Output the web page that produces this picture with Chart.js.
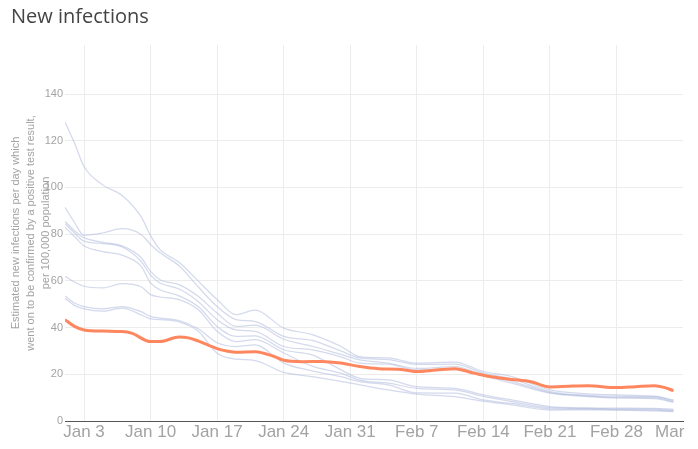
<!DOCTYPE html>
<html>
<head>
<meta charset="utf-8">
<script src="https://cdn.jsdelivr.net/npm/chart.js@4"></script>
<style>
  html, body { margin: 0; padding: 0; background: #fff; }
</style>
</head>
<body>
<canvas id="chart" width="698" height="449"></canvas>
<script>
// days counted from Jan 1
var regionDays = [0,1,2,4,6,8,9,10,12,14,16,18,20,23,26,29,31,34,37,41,44,47,51,55,58,62,64];
var lineA = [128,119,109,101,96.6,87.5,79.4,73.4,68,60,52,45.5,47.5,39.8,37,32,27.6,27,24.8,25.2,21.2,19,13.3,11.6,11.2,10.7,9];
var lineB = [91.5,85,79.5,80.5,82.4,79.9,75.6,72,66.5,57.5,49,43.4,42.6,36.2,34.5,30,27,26.3,24.2,24.3,20.5,18,12.6,11,10.6,10.4,8.7];
var lineC = [85.5,81.5,78.5,76.5,75,70,64.1,60.5,58.4,53.4,46.2,40.5,41,35,32,28.5,26.2,24.8,22.5,23.3,19.8,17,12.2,10.7,10.1,10,8.3];
var lineD = [84.5,80.5,77,76,74.5,68.4,62.5,59.1,56.5,51.2,43.4,39,38.4,31.9,30.5,27.5,24.8,24.3,21.9,22,19.3,16.2,11.9,10.4,9.8,9.6,8];
var lineE = [83,79,75,72.5,71,66.3,59.1,56.2,53.6,49,40.5,36.2,36.5,30.5,28.3,22,18.3,17.6,14.7,14,11.2,9,6.2,5.6,5.5,5.4,5];
var lineF = [62,59.5,57.7,57,58.8,57.5,54.1,53.1,52,47.7,38.4,34,34.8,29.1,23.5,20.5,17.5,16.2,14,13.3,10.5,8.3,5.7,5.4,5.2,5.1,4.6];
var lineG = [53.5,50.5,49,48,49,46.8,44.8,44.1,43,39.5,33.5,31.9,32.6,24.8,21.5,19,16.9,15.5,12,11.9,9,7.5,5.2,5.1,4.9,4.7,4.3];
var lineH = [52.5,49.5,48,47,48.3,45.5,43.7,43.4,42.4,38.5,29,26.5,25.9,20.8,19,17,15.5,13.3,11.5,10.4,8.5,6.9,4.7,4.8,4.7,4.3,4];

var highlightDays = [0,1,2,4,6,7,9,10,12,13,14,16,17,18,20,22,23,25,27,29,31,33,35,37,39,41,43,45,47,49,51,53,55,58,60,62,63,64];
var highlightValues = [43.4,40.5,39,38.5,38.3,37.6,34,34,36,35.6,34.3,31,30,29.4,29.7,27.6,26,25.4,25.5,24.8,23.3,22.4,22.2,21.2,21.8,22.4,20.5,18.8,17.8,16.8,14.6,14.9,15.1,14.3,14.7,15.1,14.4,13];

var xTickDays = [2,9,16,23,30,37,44,51,58,63.6];
var xTickLabels = ['Jan 3','Jan 10','Jan 17','Jan 24','Jan 31','Feb 7','Feb 14','Feb 21','Feb 28','Mar'];
var yTicks = [0,20,40,60,80,100,120,140];

let toPoints = (days, vals) => days.map((d, i) => ({ x: d, y: vals[i] }));

let greyLine = (vals) => ({
    data: toPoints(regionDays, vals),
    borderColor: 'rgba(170,182,220,0.5)',
    borderWidth: 1.25,
    pointRadius: 0,
    cubicInterpolationMode: 'monotone',
    fill: false
});

var datasets = [{
    data: toPoints(highlightDays, highlightValues),
    borderColor: '#ff875f',
    borderWidth: 3,
    pointRadius: 0,
    cubicInterpolationMode: 'monotone',
    fill: false
}];
[lineA, lineB, lineC, lineD, lineE, lineF, lineG, lineH].forEach(l => datasets.push(greyLine(l)));

let chart = new Chart(document.getElementById('chart'), {
    type: 'line',
    data: { datasets: datasets },
    options: {
        responsive: false,
        animation: false,
        devicePixelRatio: 1,
        layout: { padding: { left: 11, right: 15, top: 0, bottom: 0 } },
        plugins: {
            legend: { display: false },
            tooltip: { enabled: false },
            title: {
                display: true,
                text: 'New infections',
                align: 'start',
                color: '#444',
                font: { family: '"Open Sans"', size: 20, weight: 'normal', lineHeight: 1.2 },
                padding: { top: 5, bottom: 16 }
            }
        },
        scales: {
            x: {
                type: 'linear',
                min: 0,
                max: 65,
                afterBuildTicks: s => { s.ticks = xTickDays.map(v => ({ value: v })); },
                afterFit: s => { s.height = 28; },
                ticks: {
                    autoSkip: false,
                    maxRotation: 0,
                    padding: 1,
                    color: '#a3a3a3',
                    font: { family: '"Liberation Sans", Arial', size: 17 },
                    callback: v => xTickLabels[xTickDays.indexOf(v)]
                },
                grid: {
                    drawTicks: false,
                    color: ctx => (ctx.tick && ctx.tick.value === 63.6) ? 'rgba(0,0,0,0)' : '#ececec'
                },
                border: { display: true, color: '#555', width: 1 }
            },
            y: {
                min: 0,
                max: 161,
                afterBuildTicks: s => { s.ticks = yTicks.map(v => ({ value: v })); },
                afterFit: s => { s.width = 54; },
                ticks: {
                    padding: 2,
                    color: '#a3a3a3',
                    font: { family: '"Liberation Sans", Arial', size: 11 }
                },
                grid: { drawTicks: false, color: '#ececec' },
                border: { display: false },
                title: {
                    display: true,
                    text: ['Estimated new infections per day which',
                           'went on to be confirmed by a positive test result,',
                           'per 100,000 population'],
                    color: '#a3a3a3',
                    font: { family: '"Liberation Sans", Arial', size: 11, lineHeight: 1.36 },
                    padding: { top: -2.5, bottom: 0 }
                }
            }
        }
    }
});
</script>
</body>
</html>
